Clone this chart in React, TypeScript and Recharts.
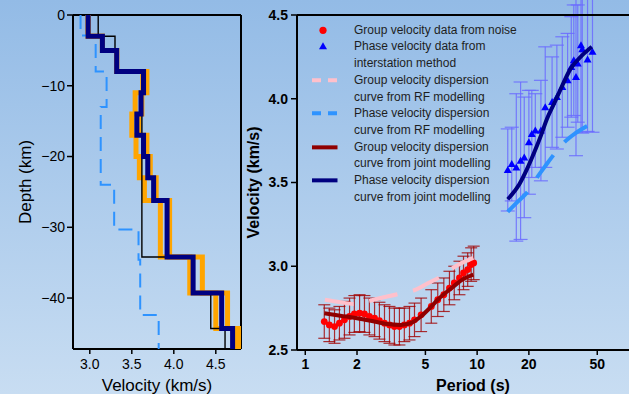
import { ScatterChart, Scatter, XAxis, YAxis, ErrorBar, Legend } from "recharts"

const FONT = '"Liberation Sans", Arial, Helvetica, sans-serif'

// ---- left panel: layered velocity models (depth in km, Vs in km/s)
const layerDepths = [0, -3, -5, -8, -11, -14, -17, -20, -23, -26.2, -34.2, -39.3, -44.3, -47.2]
const jointModelVs = [2.98, 3.15, 3.32, 3.64, 3.61, 3.56, 3.64, 3.69, 3.76, 3.92, 4.23, 4.57, 4.7]
const ensembleLowVs = [2.98, 3.15, 3.32, 3.63, 3.54, 3.5, 3.55, 3.59, 3.65, 3.84, 4.19, 4.5, 4.74]
const ensembleHighVs = [2.98, 3.15, 3.32, 3.68, 3.62, 3.58, 3.68, 3.72, 3.79, 3.95, 4.34, 4.64, 4.78]
const initialModelVs = [3.1, 3.3, 3.32, 3.62, 3.62, 3.62, 3.62, 3.62, 3.62, 3.62, 4.23, 4.44, 4.61]
const rfModelDepths = [0, -2.9, -8, -13, -24, -30.3, -34.6, -42.4, -47.2]
const rfModelVs = [2.89, 3.07, 3.2, 3.13, 3.29, 3.58, 3.6, 3.82]

const velocityTicks = [3.0, 3.5, 4.0, 4.5]
const depthTicks = [0, -10, -20, -30, -40]

// ---- right panel: dispersion data and curves
const groupPeriods = [1.29, 1.38, 1.48, 1.58, 1.69, 1.81, 1.93, 2.07, 2.21, 2.36, 2.53, 2.7, 2.89, 3.09, 3.3, 3.53, 3.77, 4.04, 4.32, 4.72, 5.41, 5.9, 6.4, 6.9, 7.36, 7.89, 8.33, 8.81, 9.23, 9.55]
const groupVel = [2.67, 2.65, 2.64, 2.66, 2.68, 2.7, 2.715, 2.72, 2.715, 2.7, 2.69, 2.675, 2.66, 2.65, 2.64, 2.64, 2.65, 2.66, 2.68, 2.71, 2.76, 2.8, 2.83, 2.87, 2.9, 2.93, 2.96, 2.98, 3.01, 3.02]
const groupErr = [0.1, 0.1, 0.1, 0.1, 0.11, 0.11, 0.11, 0.11, 0.11, 0.11, 0.11, 0.11, 0.11, 0.11, 0.11, 0.11, 0.1, 0.1, 0.1, 0.1, 0.1, 0.1, 0.1, 0.1, 0.1, 0.1, 0.1, 0.1, 0.1, 0.1]

const phasePeriods = [15.07, 15.9, 16.9, 17.9, 18.8, 20.0, 20.8, 21.8, 23.5, 24.9, 27.3, 29.1, 31.3, 33.6, 35.3, 36.5, 37.6, 38.5, 40.2, 40.9, 43.9, 46.9]
const phaseVel = [3.575, 3.61, 3.59, 3.63, 3.65, 3.74, 3.79, 3.81, 3.81, 3.95, 3.98, 4.01, 4.07, 4.11, 4.19, 4.23, 4.13, 4.21, 4.32, 4.295, 4.235, 4.28]
const phaseErr = [0.245, 0.22, 0.44, 0.47, 0.36, 0.31, 0.26, 0.22, 0.3, 0.36, 0.27, 0.31, 0.3, 0.28, 0.3, 0.33, 0.47, 0.35, 0.52, 0.5, 0.43, 0.48]

const groupRfPeriods = [1.3, 1.6, 1.9, 2.2, 2.5, 3.5, 4.4, 5.2, 6.2, 7.5, 9.5]
const groupRfVel = [2.8, 2.785, 2.775, 2.785, 2.8, 2.835, 2.86, 2.9, 2.94, 3.0, 3.05]
const phaseRfPeriods = [15.07, 17, 19.7, 22.5, 25, 28.1, 32.9, 38, 44.9]
const phaseRfVel = [3.325, 3.38, 3.445, 3.535, 3.6, 3.67, 3.75, 3.8, 3.845]
const groupJointPeriods = [1.29, 1.6, 2.0, 2.4, 3.0, 3.6, 4.2, 4.7, 5.3, 5.9, 7.2, 8.2, 9.5]
const groupJointVel = [2.72, 2.705, 2.69, 2.675, 2.655, 2.65, 2.665, 2.7, 2.75, 2.8, 2.875, 2.92, 2.95]
const phaseJointPeriods = [15.07, 17.6, 19.5, 21.5, 23.5, 25.5, 28, 31, 35, 40, 46.5]
const phaseJointVel = [3.4, 3.49, 3.58, 3.68, 3.78, 3.88, 3.97, 4.07, 4.18, 4.25, 4.31]

const periodTicks = [1, 2, 5, 10, 20, 50]
const phaseVelTicks = [2.5, 3.0, 3.5, 4.0, 4.5]

const NAVY = "#000080"
const ORANGE = "#ffa500"
const LIGHT_BLUE = "#2e93ff"
const PINK = "#ffc0cb"
const DARK_RED = "#900000"

function toSteps(depths: number[], vs: number[]) {
  const pts: { v: number; depth: number }[] = []
  vs.forEach((v, i) => {
    pts.push({ v, depth: depths[i] })
    pts.push({ v, depth: depths[i + 1] })
  })
  return pts
}

const zip = (ps: number[], vs: number[], es?: number[]) =>
  ps.map((p, i) => ({ p, v: vs[i], err: es ? es[i] : 0 }))

const noShape = () => <g />

const legendItems = [
  { kind: "dot", lines: ["Group velocity data from noise"] },
  { kind: "tri", lines: ["Phase velocity data from", "interstation method"] },
  { kind: "line", color: PINK, dash: "9 7", lines: ["Group velocity dispersion", "curve from RF modelling"] },
  { kind: "line", color: LIGHT_BLUE, dash: "9 7", lines: ["Phase velocity dispersion", "curve from RF modelling"] },
  { kind: "line", color: DARK_RED, lines: ["Group velocity dispersion", "curve from joint modelling"] },
  { kind: "line", color: NAVY, lines: ["Phase velocity dispersion", "curve from joint modelling"] },
]

function LegendBox() {
  const rowH = 16.7
  return (
    <div style={{ fontFamily: FONT, fontSize: 12, color: "#1e1e1e", lineHeight: `${rowH}px` }}>
      {legendItems.map((item, i) => (
        <div key={i} style={{ display: "flex" }}>
          <svg width={43} height={rowH} style={{ flex: "none" }}>
            {item.kind === "dot" && <circle cx={12} cy={rowH / 2} r={3.6} fill="#ff0000" />}
            {item.kind === "tri" && (
              <polygon points={`12,${rowH / 2 - 4} 16,${rowH / 2 + 3} 8,${rowH / 2 + 3}`} fill="#0000ff" />
            )}
            {item.kind === "line" && (
              <line x1={1} x2={26.5} y1={rowH / 2} y2={rowH / 2} stroke={item.color} strokeWidth={4} strokeDasharray={item.dash} />
            )}
          </svg>
          <div style={{ whiteSpace: "nowrap" }}>
            {item.lines.map((l, j) => (
              <div key={j}>{l}</div>
            ))}
          </div>
        </div>
      ))}
    </div>
  )
}

const axisLine = { stroke: "#000", strokeWidth: 2 }
const tickLine = { stroke: "#000", strokeWidth: 1.5 }

function DepthProfile() {
  const tick = { fontSize: 14, fill: "#000", fontFamily: FONT }
  return (
    <ScatterChart width={253} height={394} margin={{ top: 8, right: 0, bottom: 0, left: 0 }}>
      <XAxis
        type="number"
        dataKey="v"
        domain={[2.8, 4.8]}
        ticks={velocityTicks}
        tickFormatter={(v: number) => v.toFixed(1)}
        allowDataOverflow
        height={45}
        tickSize={5}
        tickMargin={5}
        axisLine={axisLine}
        tickLine={tickLine}
        tick={tick}
        label={{ value: "Velocity (km/s)", position: "insideBottom", offset: 3, style: { fontSize: 17, fill: "#000", fontFamily: FONT } }}
      />
      <XAxis xAxisId="top" orientation="top" type="number" domain={[2.8, 4.8]} ticks={velocityTicks} allowDataOverflow height={7} tickSize={6} axisLine={axisLine} tickLine={tickLine} tick={false} />
      <YAxis
        type="number"
        dataKey="depth"
        domain={[-47.2, 0]}
        ticks={depthTicks}
        tickFormatter={(d: number) => (d === 0 ? "0" : "\u2212" + Math.abs(d))}
        allowDataOverflow
        width={73}
        tickSize={6}
        tickMargin={2}
        axisLine={axisLine}
        tickLine={tickLine}
        tick={tick}
        label={{ value: "Depth (km)", angle: -90, position: "insideLeft", offset: 25, style: { textAnchor: "middle", fontSize: 17, fill: "#000", fontFamily: FONT } }}
      />
      <YAxis yAxisId="right" orientation="right" type="number" domain={[-47.2, 0]} ticks={depthTicks} allowDataOverflow width={12} tickSize={6} axisLine={axisLine} tickLine={tickLine} tick={false} />
      <Scatter data={toSteps(layerDepths, ensembleLowVs)} shape={noShape} line={{ stroke: ORANGE, strokeWidth: 5 }} isAnimationActive={false} />
      <Scatter data={toSteps(layerDepths, ensembleHighVs)} shape={noShape} line={{ stroke: ORANGE, strokeWidth: 5 }} isAnimationActive={false} />
      <Scatter data={toSteps(layerDepths, initialModelVs)} shape={noShape} line={{ stroke: "#000", strokeWidth: 1.4 }} isAnimationActive={false} />
      <Scatter data={toSteps(rfModelDepths, rfModelVs)} shape={noShape} line={{ stroke: LIGHT_BLUE, strokeWidth: 2, strokeDasharray: "14 8" }} isAnimationActive={false} />
      <Scatter data={toSteps(layerDepths, jointModelVs)} shape={noShape} line={{ stroke: NAVY, strokeWidth: 5 }} isAnimationActive={false} />
    </ScatterChart>
  )
}

function Dispersion() {
  const tick = { fontSize: 14, fill: "#000", fontFamily: FONT, fontWeight: "bold" }
  const labelStyle = { fontSize: 16, fill: "#000", fontFamily: FONT, fontWeight: "bold" }
  return (
    <ScatterChart width={413} height={394} margin={{ top: 8, right: 10, bottom: 0, left: 0 }}>
      <XAxis
        type="number"
        dataKey="p"
        scale="log"
        domain={[0.895, 100]}
        ticks={periodTicks}
        allowDataOverflow
        height={44}
        tickSize={5}
        tickMargin={4}
        axisLine={axisLine}
        tickLine={tickLine}
        tick={tick}
        label={{ value: "Period (s)", position: "insideBottom", offset: 3, style: labelStyle }}
      />
      <XAxis xAxisId="top" orientation="top" type="number" scale="log" domain={[0.895, 100]} ticks={periodTicks} allowDataOverflow height={7} tickSize={6} axisLine={axisLine} tickLine={tickLine} tick={false} />
      <YAxis
        type="number"
        dataKey="v"
        domain={[2.5, 4.5]}
        ticks={phaseVelTicks}
        tickFormatter={(v: number) => v.toFixed(1)}
        allowDataOverflow
        width={51}
        tickSize={6}
        tickMargin={3}
        axisLine={axisLine}
        tickLine={tickLine}
        tick={tick}
        label={{ value: "Velocity (km/s)", angle: -90, position: "insideLeft", offset: 7, style: { ...labelStyle, textAnchor: "middle" } }}
      />
      <Legend layout="horizontal" verticalAlign="middle" align="center" wrapperStyle={{ left: 65, top: 21.7, width: 260 }} content={() => <LegendBox />} />
      <Scatter
        data={zip(phasePeriods, phaseVel, phaseErr)}
        fill="#0000ff"
        shape={(p: any) => <polygon points={`${p.cx},${p.cy - 4} ${p.cx + 4},${p.cy + 3} ${p.cx - 4},${p.cy + 3}`} fill="#0000ff" />}
        isAnimationActive={false}
      >
        <ErrorBar dataKey="err" direction="y" width={7} stroke="#6b6bff" strokeOpacity={0.85} strokeWidth={1.2} />
      </Scatter>
      <Scatter
        data={zip(groupPeriods, groupVel, groupErr)}
        fill="#ff0000"
        shape={(p: any) => <circle cx={p.cx} cy={p.cy} r={3.4} fill="#ff0000" />}
        isAnimationActive={false}
      >
        <ErrorBar dataKey="err" direction="y" width={6} stroke="#a00000" strokeOpacity={0.8} strokeWidth={1.2} />
      </Scatter>
      <Scatter data={zip(groupRfPeriods, groupRfVel)} shape={noShape} lineJointType="monotoneX" line={{ stroke: PINK, strokeWidth: 4, strokeDasharray: "29 16" }} isAnimationActive={false} />
      <Scatter data={zip(phaseRfPeriods, phaseRfVel)} shape={noShape} lineJointType="monotoneX" line={{ stroke: LIGHT_BLUE, strokeWidth: 4, strokeDasharray: "28 17" }} isAnimationActive={false} />
      <Scatter data={zip(groupJointPeriods, groupJointVel)} shape={noShape} lineJointType="monotoneX" line={{ stroke: DARK_RED, strokeWidth: 4 }} isAnimationActive={false} />
      <Scatter data={zip(phaseJointPeriods, phaseJointVel)} shape={noShape} lineJointType="monotoneX" line={{ stroke: NAVY, strokeWidth: 4 }} isAnimationActive={false} />
    </ScatterChart>
  )
}

export default function App() {
  return (
    <div
      style={{
        position: "fixed",
        left: 0,
        top: 0,
        width: 629,
        height: 394,
        overflow: "hidden",
        background: "linear-gradient(to bottom, #93bbe6, #c8ddf2)",
      }}
    >
      <div style={{ position: "absolute", left: 0, top: 0 }}>
        <DepthProfile />
      </div>
      <div style={{ position: "absolute", left: 246, top: 0 }}>
        <Dispersion />
      </div>
    </div>
  )
}
